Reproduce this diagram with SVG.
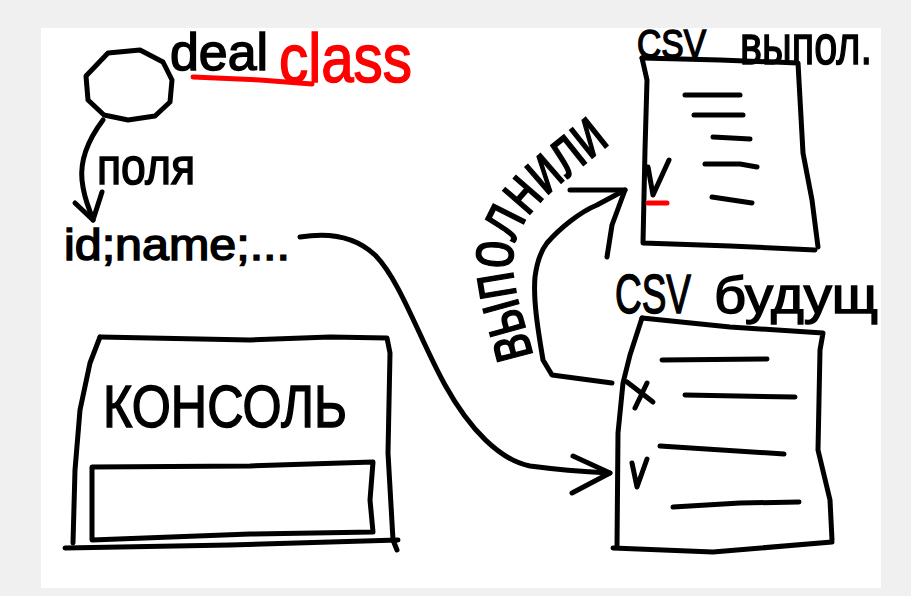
<svg xmlns="http://www.w3.org/2000/svg" width="911" height="596" viewBox="0 0 911 596">
  <defs>
    <path id="arc" d="M533,356 C525,320 510,285 513,255 C516,225 540,200 565,180 C583,166 597,154 614,141"/>
    <style>
      .ln{fill:none;stroke:#000;stroke-width:5;stroke-linecap:round;stroke-linejoin:round}
      .red{stroke:#ff0000}
      .t{font-family:"Liberation Sans","DejaVu Sans",sans-serif;fill:#000;stroke:#000;stroke-width:1.5}
      .tr{fill:#ff0000;stroke:#ff0000}
    </style>
  </defs>
  <rect x="0" y="0" width="911" height="596" fill="#f0f0f0"/>
  <rect x="41" y="28" width="840" height="560" fill="#ffffff"/>
  <g id="class-node">
    <path class="ln" d="M108,53 L140,50 L163,62 L172,80 L170,102 L155,116 L128,120 L104,115 L88,100 L86,76 Z"/>
    <text class="t" x="170" y="70" font-size="52" textLength="98" lengthAdjust="spacingAndGlyphs">deal</text>
    <text class="t tr" x="279" y="82" font-size="68" textLength="133" lengthAdjust="spacingAndGlyphs">class</text>
    <path class="ln red" d="M193,77 L260,80 L312,84"/>
  </g>
  <g id="fields-label">
    <text class="t" x="97" y="184" font-size="52" textLength="98" lengthAdjust="spacingAndGlyphs">поля</text>
  </g>
  <g id="fields-node">
    <text class="t" x="64" y="260" font-size="44" textLength="226" lengthAdjust="spacingAndGlyphs">id;name;...</text>
  </g>
  <g id="console">
    <path class="ln" d="M100,337 L150,338 L250,340 L330,337 L387,338 L390,353 L388,453 L393,540 L397,550"/>
    <path class="ln" d="M100,337 L90,363 L80,410 L75,470 L73,543"/>
    <path class="ln" d="M65,548 L230,545 L398,540"/>
    <text class="t" x="103" y="427" font-size="60" textLength="244" lengthAdjust="spacingAndGlyphs">КОНСОЛЬ</text>
    <path class="ln" d="M92,467 L250,466 L373,462 L370,500 L373,532 L250,534 L92,540 Z"/>
  </g>
  <g id="csv-done">
    <text class="t" font-size="40" transform="translate(637,58) scale(0.84,1)">CSV</text>
    <text class="t" x="740" y="64" font-size="56" textLength="132" lengthAdjust="spacingAndGlyphs">выпол.</text>
    <path class="ln" d="M642,58 L720,60 L798,63 L803,153 L812,200 L818,247"/>
    <path class="ln" d="M642,58 L647,80 L645,150 L643,243 L730,246 L815,250"/>
    <path class="ln" d="M685,95 L740,95"/>
    <path class="ln" d="M694,115 L743,115"/>
    <path class="ln" d="M713,137 L750,139"/>
    <path class="ln" d="M705,164 L740,164 L757,167"/>
    <path class="ln" d="M712,197 L752,203"/>
    <path class="ln" d="M648,167 L653,195 L669,160"/>
    <path class="ln red" d="M648,203 L667,203"/>
  </g>
  <g id="csv-future">
    <text class="t" font-size="56" transform="translate(615,313) scale(0.66,1)">CSV</text>
    <text class="t" x="714" y="313" font-size="52" textLength="164" lengthAdjust="spacingAndGlyphs">будущ</text>
    <path class="ln" d="M642,318 L730,327 L823,333 L820,350 L818,450 L830,500 L832,540"/>
    <path class="ln" d="M642,318 L630,355 L623,383 L618,433 L617,547"/>
    <path class="ln" d="M613,548 L713,552 L832,542"/>
    <path class="ln" d="M662,360 L767,359"/>
    <path class="ln" d="M685,395 L795,397"/>
    <path class="ln" d="M660,446 L784,454"/>
    <path class="ln" d="M673,507 L740,503 L799,502"/>
    <path class="ln" d="M627,382 L653,402 M647,383 L635,408"/>
    <path class="ln" d="M632,463 L637,487 L647,459"/>
  </g>
  <g id="done-label">
    <text class="t" font-size="68"><textPath href="#arc" textLength="256" lengthAdjust="spacingAndGlyphs">выполнили</textPath></text>
  </g>
  <g id="connectors">
    <path class="ln" d="M103,120 C88,140 80,160 82,180 C84,200 90,210 93,220"/>
    <path class="ln" d="M75,203 L93,220 L102,192"/>
    <path class="ln" d="M300,237 C330,232 355,236 375,255 C400,280 420,340 445,385 C470,430 500,460 530,466 C560,470 590,472 610,473"/>
    <path class="ln" d="M573,456 L610,473 L572,493"/>
    <path class="ln" d="M612,383 L552,375 L543,360 C538,330 533,300 535,277 C537,262 540,252 547,243 C560,228 580,212 597,205 L625,190"/>
    <path class="ln" d="M570,190 L625,190 L612,225 L607,257"/>
  </g>
</svg>
